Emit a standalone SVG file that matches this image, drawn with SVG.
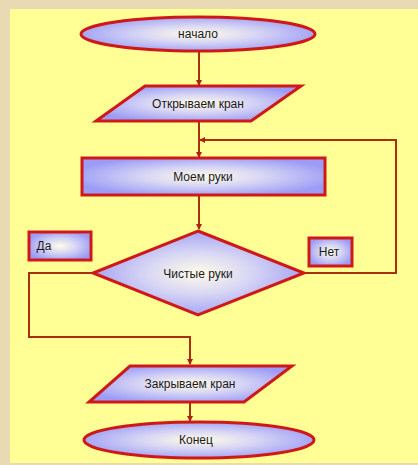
<svg xmlns="http://www.w3.org/2000/svg" width="418" height="465" viewBox="0 0 418 465">
<defs>
<radialGradient id="g" cx="50%" cy="50%" r="55%">
<stop offset="0" stop-color="#fffce8"/>
<stop offset="0.45" stop-color="#d8d6f4"/>
<stop offset="1" stop-color="#9c9cf6"/>
</radialGradient>
<marker id="a" markerWidth="6" markerHeight="6" refX="5" refY="3" orient="auto" markerUnits="userSpaceOnUse">
<path d="M0,0 L6,3 L0,6 z" fill="#b02010"/>
</marker>
<style>
.s{fill:url(#g);stroke:#d01818;stroke-width:3;stroke-linejoin:miter}
.c{fill:none;stroke:#a83012;stroke-width:2}
.t{font-family:"Liberation Sans",Arial,sans-serif;font-size:12px;fill:#1a1a1a;text-anchor:middle}
</style>
</defs>
<rect x="0" y="0" width="418" height="465" fill="#e9dab4"/>
<rect x="10" y="9" width="408" height="454" fill="#ffff96"/>
<g id="connectors">
<path class="c" d="M199,52 V85" marker-end="url(#a)"/>
<path class="c" d="M199,121 V157" marker-end="url(#a)"/>
<path class="c" d="M305,273 H396 V140 H200" marker-end="url(#a)"/>
<path class="c" d="M199,196 V229" marker-end="url(#a)"/>
<path class="c" d="M92,273 H29 V337 H190 V364" marker-end="url(#a)"/>
<path class="c" d="M190,403 V421" marker-end="url(#a)"/>
</g>
<g id="start">
<ellipse class="s" cx="198" cy="34" rx="117" ry="17"/>
<text class="t" x="198" y="38">начало</text>
</g>
<g id="open">
<polygon class="s" points="145,86 301,86 251,121 96,121"/>
<text class="t" x="198" y="108">Открываем кран</text>
</g>
<g id="wash">
<rect class="s" x="82" y="158" width="243" height="37"/>
<text class="t" x="203" y="181">Моем руки</text>
</g>
<g id="check">
<polygon class="s" points="198,231 304,273 198,315 93,273"/>
<text class="t" x="198" y="278">Чистые руки</text>
</g>
<g id="yes">
<rect class="s" x="29" y="232" width="62" height="28"/>
<text class="t" x="44" y="250">Да</text>
</g>
<g id="no">
<rect class="s" x="309" y="238" width="43" height="28"/>
<text class="t" x="329" y="256">Нет</text>
</g>
<g id="close">
<polygon class="s" points="130,366 292,366 244,402 89,402"/>
<text class="t" x="190" y="388">Закрываем кран</text>
</g>
<g id="end">
<ellipse class="s" cx="199" cy="440" rx="115" ry="18"/>
<text class="t" x="196" y="444">Конец</text>
</g>
</svg>
